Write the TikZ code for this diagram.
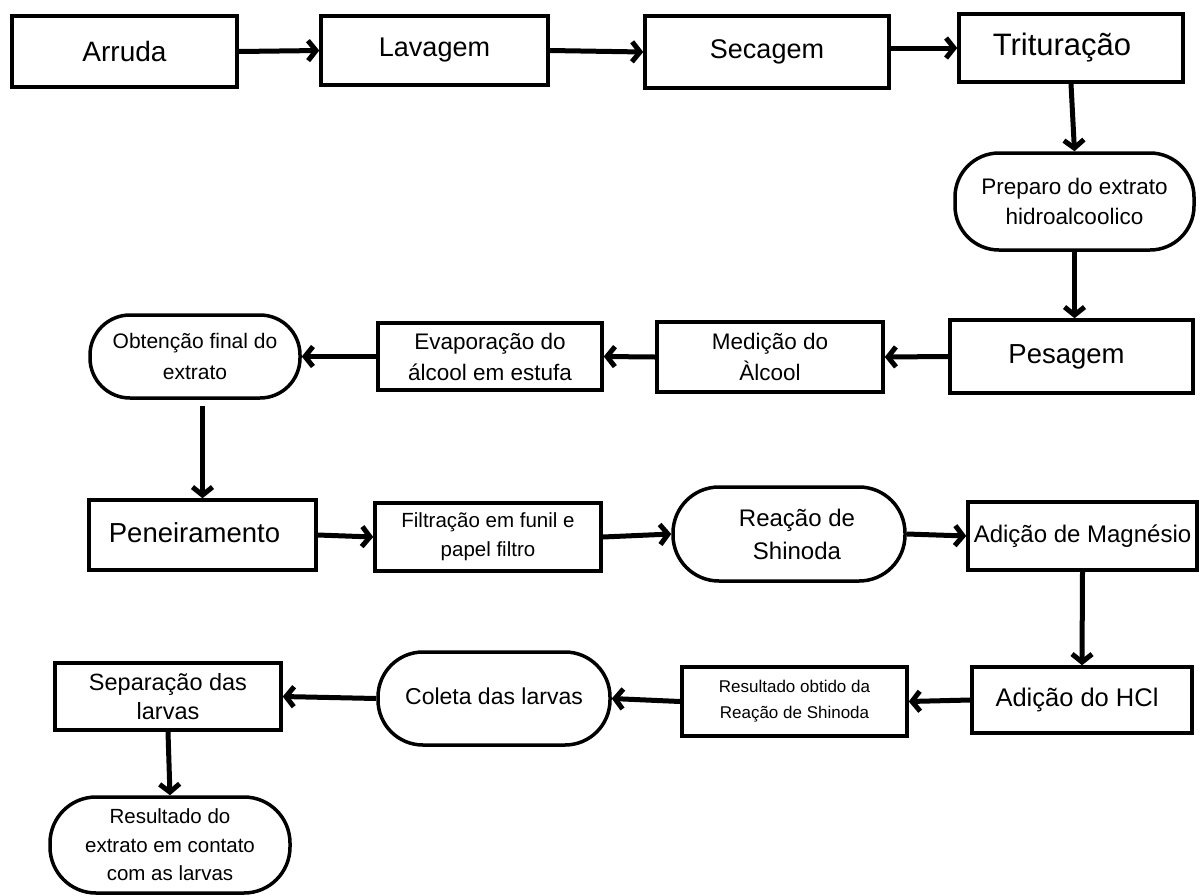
\documentclass[tikz,border=0pt]{standalone}
\usepackage{fontspec}
\setmainfont{Liberation Sans}
\usetikzlibrary{arrows.meta}
\newcommand\fsz[2]{\fontsize{#1}{#2}\selectfont}
\begin{document}
\begin{tikzpicture}[x=1pt,y=-1pt,
  box/.style={draw, line width=3.5pt, inner sep=0pt, align=center},
  pill/.style={box, rounded corners=44pt},
  arr/.style={line width=5pt, -{Straight Barb[length=8pt,width=20pt]}}]
\useasboundingbox (0,0) rectangle (1200,895);

\node[box, minimum width=225pt, minimum height=71pt, font=\fsz{28}{32}] (arruda) at (124.5,51.5) {Arruda};
\node[box, minimum width=227pt, minimum height=69pt, font=\fsz{27}{32}] (lavagem) at (434.5,50.5) {\raisebox{5pt}{Lavagem}};
\node[box, minimum width=244pt, minimum height=72pt, font=\fsz{27}{32}] (secagem) at (767,52) {\raisebox{4pt}{Secagem}};
\node[box, minimum width=224pt, minimum height=68pt, font=\fsz{31}{36}] (tritur) at (1071,48) {\hspace*{-18pt}Trituração};
\node[pill, minimum width=239pt, minimum height=97pt, font=\fsz{22.5}{30}] (preparo) at (1074.5,201.5) {Preparo do extrato\\hidroalcoolico};
\node[box, minimum width=243pt, minimum height=73pt, font=\fsz{27.5}{32}] (pesagem) at (1071.5,356.5) {\raisebox{4pt}{\hspace*{-10pt}Pesagem}};
\node[box, minimum width=226pt, minimum height=70pt, font=\fsz{22.5}{31}] (medicao) at (770,357) {Medição do\\Àlcool};
\node[box, minimum width=224pt, minimum height=67pt, font=\fsz{22.5}{31}] (evap) at (490,356.5) {Evaporação do\\álcool em estufa};
\node[pill, rounded corners=40pt, minimum width=210pt, minimum height=83pt, font=\fsz{21}{31}] (obt) at (195,356.5) {Obtenção final do\\extrato};
\node[box, minimum width=227pt, minimum height=70pt, font=\fsz{27.5}{32}] (pen) at (202.5,535) {\raisebox{5pt}{\hspace*{-16pt}Peneiramento}};
\node[box, minimum width=226pt, minimum height=68pt, font=\fsz{20.5}{29}] (filt) at (488,537) {Filtração em funil e\\papel filtro};
\node[pill, rounded corners=46pt, minimum width=232pt, minimum height=94pt, font=\fsz{24}{33}] (reacao) at (789,534) {\hspace*{16pt}Reação de\\\hspace*{16pt}Shinoda};
\node[box, minimum width=229pt, minimum height=68pt, font=\fsz{24}{30}] (mg) at (1082.5,536) {\raisebox{2pt}{Adição de Magnésio}};
\node[box, minimum width=220pt, minimum height=66pt, font=\fsz{25.5}{30}] (hcl) at (1082,700) {\raisebox{3pt}{\hspace*{-10pt}Adição do HCl}};
\node[box, minimum width=225pt, minimum height=69pt, font=\fsz{17}{26}] (res1) at (794.5,701.5) {Resultado obtido da\\Reação de Shinoda};
\node[pill, rounded corners=45pt, minimum width=232pt, minimum height=93pt, font=\fsz{23}{30}] (coleta) at (494,698.5) {\raisebox{4pt}{Coleta das larvas}};
\node[box, minimum width=226pt, minimum height=67pt, font=\fsz{23.5}{29.5}] (sep) at (168,696.5) {Separação das\\larvas};
\node[pill, rounded corners=46pt, minimum width=240pt, minimum height=96pt, font=\fsz{20.5}{28.5}] (res2) at (170,845) {Resultado do\\extrato em contato\\com as larvas};

\draw[arr] (arruda.east) -- (lavagem.west);
\draw[arr] (lavagem.east) -- (secagem.west);
\draw[arr] (secagem.east |- tritur.west) -- (tritur.west);
\draw[arr] (tritur.south) -- (preparo.north);
\draw[arr] (preparo.south) -- (preparo.south |- pesagem.north);
\draw[arr] (pesagem.west) -- (medicao.east);
\draw[arr] (medicao.west) -- (evap.east);
\draw[arr] (evap.west) -- (obt.east);
\draw[arr] ([yshift=-6pt]obt.south -| pen.north) -- (pen.north);
\draw[arr] (pen.east) -- (filt.west);
\draw[arr] (filt.east) -- (reacao.west);
\draw[arr] (reacao.east) -- (mg.west);
\draw[arr] (mg.south) -- (hcl.north);
\draw[arr] (hcl.west) -- (res1.east);
\draw[arr] (res1.west) -- (coleta.east);
\draw[arr] (coleta.west) -- (sep.east);
\draw[arr] (sep.south) -- (res2.north);
\end{tikzpicture}
\end{document}
